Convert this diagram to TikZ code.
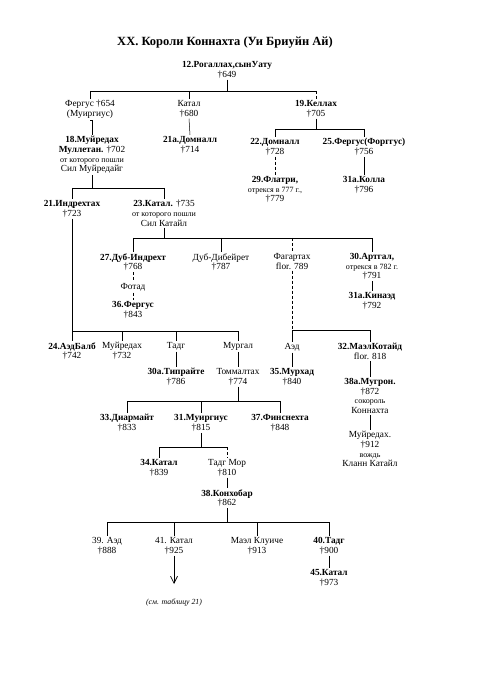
\documentclass[tikz,border=0pt]{standalone}
\usepackage{fontspec}
\setmainfont{Liberation Serif}
\usetikzlibrary{arrows.meta}
\newcommand{\sm}[1]{{\fontsize{8}{9.7}\selectfont #1}}
\begin{document}
\begin{tikzpicture}[x=1pt,y=-1pt,
  p/.style={anchor=north,align=center,inner sep=1.2pt,font=\fontsize{9.3}{9.7}\selectfont},
  ln/.style={line width=0.5pt},
  dl/.style={line width=0.5pt,densely dashed}]
\useasboundingbox (0,0) rectangle (492,700);
\node[anchor=center,font=\fontsize{12.5}{14}\selectfont\bfseries] (title) at (225,43) {XX. Короли Коннахта (Уи Бриуйн Ай)};
% persons
\node[p] (n12) at (227,60) {\textbf{12.Рогаллах,сынУату}\\†649};
\node[p] (nFerg) at (90,99) {Фергус †654\\(Муиргиус)};
\node[p] (nKat1) at (189,99) {Катал\\†680};
\node[p] (n19) at (316,99) {\textbf{19.Келлах}\\†705};
\node[p] (n18) at (92,135) {\textbf{18.Муйредах}\\\textbf{Муллетан.} †702\\\sm{от которого пошли}\\Сил Муйредайг};
\node[p] (n21a) at (190,135) {\textbf{21а.Домналл}\\†714};
\node[p] (n22) at (275,137) {\textbf{22.Домналл}\\†728};
\node[p] (n25) at (364,137) {\textbf{25.Фергус(Форггус)}\\†756};
\node[p] (n29) at (275,175) {\textbf{29.Флатри,}\\\sm{отрекся в 777 г.,}\\†779};
\node[p] (n31a) at (364,175) {\textbf{31а.Колла}\\†796};
\node[p] (n21) at (72,199) {\textbf{21.Индрехтах}\\†723};
\node[p] (n23) at (164,199) {\textbf{23.Катал.} †735\\\sm{от которого пошли}\\Сил Катайл};
\node[p] (n27) at (133,252) {\textbf{27.Дуб-Индрехт}\\†768};
\node[p] (nDD) at (221,252) {Дуб-Дибейрет\\†787};
\node[p] (nFag) at (292,252) {Фагартах\\flor. 789};
\node[p] (n30) at (372,252) {\textbf{30.Артгал,}\\\sm{отрекся в 782 г.}\\†791};
\node[p] (nFot) at (133,282) {Фотад};
\node[p] (n36) at (133,300) {\textbf{36.Фергус}\\†843};
\node[p] (n31aK) at (372,291) {\textbf{31а.Кинаэд}\\†792};
\node[p] (n24) at (72,341) {\textbf{24.АэдБалб}\\†742};
\node[p] (nMuir) at (122,341) {Муйредах\\†732};
\node[p] (nTadg) at (176,341) {Тадг};
\node[p] (nMurg) at (238,341) {Мургал};
\node[p] (n30a) at (176,367) {\textbf{30а.Типрайте}\\†786};
\node[p] (nTomm) at (238,367) {Томмалтах\\†774};
\node[p] (nAed) at (292,342) {Аэд};
\node[p] (n32) at (370,342) {\textbf{32.МаэлКотайд}\\flor. 818};
\node[p] (n35) at (292,367) {\textbf{35.Мурхад}\\†840};
\node[p] (n38a) at (370,377) {\textbf{38а.Мугрон.}\\†872\\\sm{сокороль}\\Коннахта};
\node[p] (nMD) at (370,430) {Муйредах.\\†912\\\sm{вождь}\\Кланн Катайл};
\node[p] (n33) at (127,413) {\textbf{33.Диармайт}\\†833};
\node[p] (n31) at (201,413) {\textbf{31.Муиргиус}\\†815};
\node[p] (n37) at (280,413) {\textbf{37.Финснехта}\\†848};
\node[p] (n34) at (159,458) {\textbf{34.Катал}\\†839};
\node[p] (nTM) at (227,458) {Тадг Мор\\†810};
\node[p] (n38) at (227,488) {\textbf{38.Конхобар}\\†862};
\node[p] (n39) at (107,536) {39. Аэд\\†888};
\node[p] (n41) at (174,536) {41. Катал\\†925};
\node[p] (nMC) at (257,536) {Маэл Клуиче\\†913};
\node[p] (n40) at (329,536) {\textbf{40.Тадг}\\†900};
\node[p] (n45) at (329,568) {\textbf{45.Катал}\\†973};
\node[anchor=center,font=\fontsize{7.8}{9}\selectfont\itshape] (note) at (174,603) {(см. таблицу 21)};
\coordinate (aend) at (174,584);
% bars
\coordinate (b12) at (0,91);
\coordinate (b19) at (0,129);
\coordinate (b18) at (0,188);
\coordinate (b23) at (0,238);
\coordinate (b21) at (0,331);
\coordinate (bFag) at (0,330);
\coordinate (bTom) at (0,401);
\coordinate (b31) at (0,447);
\coordinate (b38) at (0,522);
% 12
\draw[ln] (n12.south) -- (n12.south |- b12);
\draw[ln] (nFerg.north |- b12) -- (n19.north |- b12);
\draw[ln] (nFerg.north |- b12) -- (nFerg.north);
\draw[ln] (nKat1.north |- b12) -- (nKat1.north);
\draw[dl] (n19.north |- b12) -- (n19.north);
\draw[ln] (nFerg.south) -- (nFerg.south -| n18.north) -- (n18.north);
\draw[ln] (nKat1.south) -- (n21a.north);
% 19
\draw[ln] (n19.south) -- (n19.south |- b19);
\draw[ln] (n22.north |- b19) -- (n25.north |- b19);
\draw[ln] (n22.north |- b19) -- (n22.north);
\draw[ln] (n25.north |- b19) -- (n25.north);
\draw[dl] (n22.south) -- (n29.north);
\draw[ln] (n25.south) -- (n31a.north);
% 18
\draw[ln] (n18.south) -- (n18.south |- b18);
\draw[ln] (n21.north |- b18) -- (n23.north |- b18);
\draw[ln] (n21.north |- b18) -- (n21.north);
\draw[ln] (n23.north |- b18) -- (n23.north);
% 23
\draw[ln] (n23.south) -- (n23.south |- b23);
\draw[ln] (n27.north |- b23) -- (n30.north |- b23);
\draw[ln] (n27.north |- b23) -- (n27.north);
\draw[ln] (nDD.north |- b23) -- (nDD.north);
\draw[dl] (nFag.north |- b23) -- (nFag.north);
\draw[ln] (n30.north |- b23) -- (n30.north);
\draw[dl] (n27.south) -- (nFot.north);
\draw[dl] (nFot.south) -- (n36.north);
\draw[ln] (n30.south) -- (n31aK.north);
% 21
\draw[ln] (n21.south) -- (n24.north);
\draw[ln] (n24.north |- b21) -- (nMurg.north |- b21);
\draw[ln] (nMuir.north |- b21) -- (nMuir.north);
\draw[ln] (nTadg.north |- b21) -- (nTadg.north);
\draw[ln] (nMurg.north |- b21) -- (nMurg.north);
\draw[ln] (nTadg.south) -- (n30a.north);
\draw[ln] (nMurg.south) -- (nTomm.north);
% Fagartach
\draw[dl] (nFag.south) -- (nFag.south |- bFag);
\draw[ln] (nAed.north |- bFag) -- (n32.north |- bFag);
\draw[ln] (nAed.north |- bFag) -- (nAed.north);
\draw[ln] (n32.north |- bFag) -- (n32.north);
\draw[ln] (nAed.south) -- (n35.north);
\draw[ln] (n32.south) -- (n38a.north);
\draw[ln] (n38a.south) -- (nMD.north);
% Tommaltach
\draw[ln] (nTomm.south) -- (nTomm.south |- bTom);
\draw[ln] (n33.north |- bTom) -- (n37.north |- bTom);
\draw[ln] (n33.north |- bTom) -- (n33.north);
\draw[ln] (n31.north |- bTom) -- (n31.north);
\draw[ln] (n37.north |- bTom) -- (n37.north);
% 31
\draw[ln] (n31.south) -- (n31.south |- b31);
\draw[ln] (n34.north |- b31) -- (nTM.north |- b31);
\draw[ln] (n34.north |- b31) -- (n34.north);
\draw[dl] (nTM.north |- b31) -- (nTM.north);
\draw[ln] (nTM.south) -- (n38.north);
% 38
\draw[ln] (n38.south) -- (n38.south |- b38);
\draw[ln] (n39.north |- b38) -- (n40.north |- b38);
\draw[ln] (n39.north |- b38) -- (n39.north);
\draw[ln] (n41.north |- b38) -- (n41.north);
\draw[ln] (nMC.north |- b38) -- (nMC.north);
\draw[ln] (n40.north |- b38) -- (n40.north);
\draw[ln,-{Straight Barb[length=7pt,width=7pt,line width=0.7pt]}] (n41.south) -- (aend);
\draw[ln] (n40.south) -- (n45.north);
\end{tikzpicture}
\end{document}
